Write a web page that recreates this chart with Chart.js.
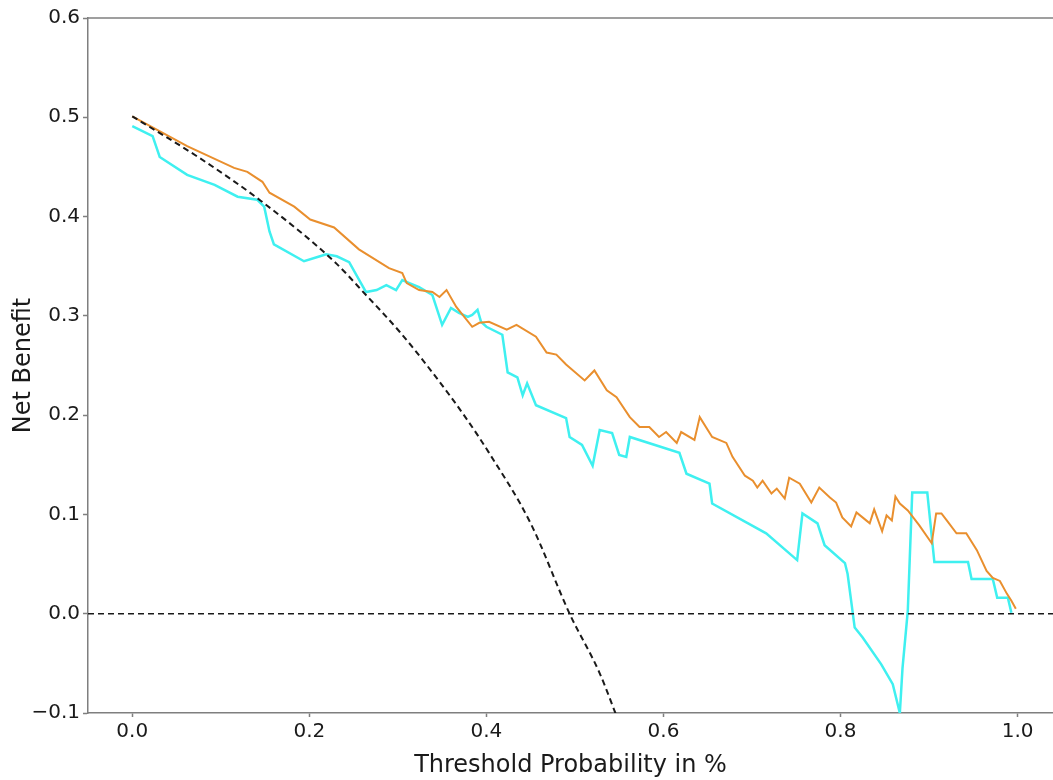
<!DOCTYPE html>
<html>
<head>
<meta charset="utf-8">
<script src="https://cdn.jsdelivr.net/npm/chart.js@4"></script>
<style>
  html, body { margin: 0; padding: 0; background: #ffffff; }
  #wrap { width: 1053px; height: 780px; }
</style>
</head>
<body>
<div id="wrap"><canvas id="dcaChart" width="1053" height="780"></canvas></div>
<script>
// Threshold / net benefit readings for each curve
var orangeX = [0, 0.062, 0.115, 0.130, 0.147, 0.155, 0.183, 0.201, 0.228, 0.256, 0.290, 0.305, 0.310, 0.324, 0.339, 0.347, 0.355, 0.366, 0.384, 0.392, 0.403, 0.423, 0.434, 0.456, 0.468, 0.479, 0.490, 0.511, 0.522, 0.536, 0.547, 0.562, 0.573, 0.584, 0.595, 0.603, 0.615, 0.620, 0.635, 0.641, 0.655, 0.671, 0.678, 0.692, 0.701, 0.706, 0.712, 0.722, 0.728, 0.737, 0.742, 0.754, 0.767, 0.776, 0.788, 0.795, 0.802, 0.812, 0.818, 0.829, 0.833, 0.838, 0.847, 0.852, 0.858, 0.862, 0.867, 0.876, 0.889, 0.903, 0.908, 0.914, 0.920, 0.931, 0.942, 0.954, 0.965, 0.972, 0.980, 0.988, 0.993, 0.998];
var orangeY = [0.501, 0.471, 0.449, 0.445, 0.435, 0.424, 0.410, 0.397, 0.389, 0.367, 0.348, 0.343, 0.333, 0.326, 0.324, 0.319, 0.326, 0.309, 0.289, 0.293, 0.294, 0.286, 0.291, 0.279, 0.263, 0.261, 0.251, 0.235, 0.245, 0.225, 0.218, 0.198, 0.188, 0.188, 0.178, 0.183, 0.172, 0.183, 0.175, 0.198, 0.178, 0.172, 0.158, 0.139, 0.134, 0.127, 0.134, 0.121, 0.126, 0.116, 0.137, 0.131, 0.112, 0.127, 0.117, 0.112, 0.097, 0.088, 0.102, 0.094, 0.091, 0.105, 0.083, 0.099, 0.094, 0.118, 0.111, 0.104, 0.089, 0.071, 0.101, 0.101, 0.094, 0.081, 0.081, 0.064, 0.043, 0.036, 0.033, 0.020, 0.013, 0.005];

var cyanX = [0, 0.023, 0.031, 0.062, 0.093, 0.119, 0.141, 0.149, 0.155, 0.160, 0.194, 0.212, 0.219, 0.231, 0.245, 0.264, 0.276, 0.287, 0.298, 0.305, 0.313, 0.324, 0.339, 0.350, 0.360, 0.369, 0.379, 0.384, 0.390, 0.394, 0.400, 0.418, 0.424, 0.435, 0.441, 0.446, 0.456, 0.490, 0.494, 0.508, 0.520, 0.528, 0.542, 0.550, 0.558, 0.562, 0.618, 0.626, 0.652, 0.655, 0.716, 0.751, 0.757, 0.774, 0.782, 0.805, 0.808, 0.816, 0.825, 0.846, 0.859, 0.867, 0.870, 0.876, 0.881, 0.898, 0.906, 0.944, 0.948, 0.972, 0.977, 0.989, 0.993];
var cyanY = [0.491, 0.481, 0.460, 0.442, 0.432, 0.420, 0.417, 0.410, 0.385, 0.372, 0.355, 0.360, 0.362, 0.360, 0.354, 0.324, 0.326, 0.331, 0.326, 0.336, 0.333, 0.329, 0.321, 0.291, 0.308, 0.303, 0.299, 0.301, 0.306, 0.294, 0.289, 0.281, 0.243, 0.238, 0.220, 0.232, 0.210, 0.197, 0.178, 0.170, 0.149, 0.185, 0.182, 0.160, 0.158, 0.178, 0.162, 0.141, 0.131, 0.111, 0.081, 0.054, 0.101, 0.091, 0.069, 0.051, 0.040, -0.014, -0.024, -0.051, -0.071, -0.100, -0.055, 0.003, 0.122, 0.122, 0.052, 0.052, 0.035, 0.035, 0.016, 0.016, 0.001];

// "treat all" dashed curve
var allX = [0, 0.076, 0.145, 0.229, 0.264, 0.302, 0.339, 0.377, 0.403, 0.450, 0.494, 0.528, 0.547];
var allY = [0.501, 0.459, 0.416, 0.354, 0.321, 0.284, 0.243, 0.197, 0.162, 0.091, 0.000, -0.060, -0.103];

// "treat none" line
var noneX = [-0.05, 1.04];
var noneY = [0, 0];

var xTicks = [0, 0.2, 0.4, 0.6, 0.8, 1.0];
var yTicks = [-0.1, 0, 0.1, 0.2, 0.3, 0.4, 0.5, 0.6];

function toPoints(xs, ys) {
  return xs.map(function (x, i) { return { x: x, y: ys[i] }; });
}

var spineColor = '#7f7f7f';
var textColor = '#1a1a1a';

// top spine (right one sits at the canvas edge)
var topSpine = {
  id: 'topSpine',
  afterDraw: function (chart) {
    var a = chart.chartArea, ctx = chart.ctx;
    ctx.save();
    ctx.strokeStyle = spineColor;
    ctx.lineWidth = 1.5;
    ctx.beginPath();
    ctx.moveTo(a.left, a.top);
    ctx.lineTo(a.right, a.top);
    ctx.stroke();
    ctx.restore();
  }
};

// Define the chart data
var data = {
  datasets: [
    {
      label: 'Treat all',
      data: toPoints(allX, allY),
      borderColor: '#1a1a1a',
      borderWidth: 2,
      borderDash: [6, 4],
      pointRadius: 0,
      cubicInterpolationMode: 'monotone',
      order: 0
    },
    {
      label: 'Treat none',
      data: toPoints(noneX, noneY),
      borderColor: '#1a1a1a',
      borderWidth: 1.6,
      borderDash: [6, 4],
      pointRadius: 0,
      order: 1
    },
    {
      label: 'Model A',
      data: toPoints(orangeX, orangeY),
      borderColor: '#e98f2e',
      borderWidth: 2,
      pointRadius: 0,
      order: 2
    },
    {
      label: 'Model B',
      data: toPoints(cyanX, cyanY),
      borderColor: '#3ff0f0',
      borderWidth: 2.5,
      pointRadius: 0,
      order: 3
    }
  ]
};

// Define the chart configuration
var config = {
  type: 'line',
  data: data,
  options: {
    responsive: false,
    animation: false,
    layout: { padding: { top: 18, right: 0, left: 0, bottom: 0 } },
    plugins: {
      legend: { display: false },
      tooltip: { enabled: false }
    },
    scales: {
      x: {
        type: 'linear',
        min: -0.05,
        max: 1.04,
        afterBuildTicks: function (scale) {
          scale.ticks = xTicks.map(function (v) { return { value: v }; });
        },
        afterFit: function (scale) { scale.height = 67; },
        grid: { display: true, drawOnChartArea: false, tickLength: 4, tickColor: spineColor, tickWidth: 1.5 },
        border: { display: true, color: spineColor, width: 1.5 },
        ticks: {
          color: textColor,
          font: { family: 'DejaVu Sans', size: 20 },
          padding: 3,
          maxRotation: 0,
          callback: function (v) { return v.toFixed(1); }
        },
        title: {
          display: true,
          text: 'Threshold Probability in %',
          color: textColor,
          font: { family: 'DejaVu Sans', size: 24 },
          padding: { top: 0, bottom: 0 }
        }
      },
      y: {
        min: -0.1,
        max: 0.6,
        afterBuildTicks: function (scale) {
          scale.ticks = yTicks.map(function (v) { return { value: v }; });
        },
        afterFit: function (scale) { scale.width = 88; },
        grid: { display: true, drawOnChartArea: false, tickLength: 5, tickColor: spineColor, tickWidth: 1.5 },
        border: { display: true, color: spineColor, width: 1.5 },
        ticks: {
          color: textColor,
          font: { family: 'DejaVu Sans', size: 20 },
          padding: 3,
          callback: function (v) {
            var s = Math.abs(v).toFixed(1);
            return v < -1e-9 ? '\u2212' + s : s;
          }
        },
        title: {
          display: true,
          text: 'Net Benefit',
          color: textColor,
          font: { family: 'DejaVu Sans', size: 24 },
          padding: { top: 9, bottom: 0 }
        }
      }
    }
  },
  plugins: [topSpine]
};

// Create the chart
var myChart = new Chart(document.getElementById('dcaChart').getContext('2d'), config);
</script>
</body>
</html>
